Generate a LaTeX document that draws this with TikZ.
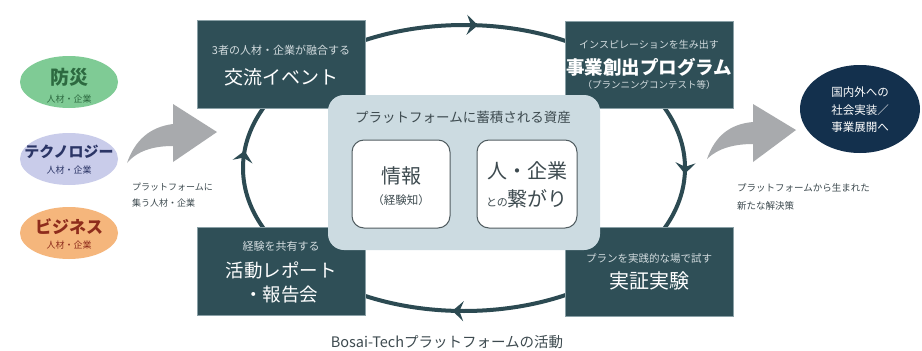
\documentclass[tikz,border=0pt]{standalone}
\usepackage{fontspec}
\setmainfont{Noto Sans CJK JP}
\usetikzlibrary{arrows.meta,decorations.markings,shapes.geometric}
\definecolor{boxc}{HTML}{2F4F57}
\definecolor{boxrim}{HTML}{8AA0A6}
\definecolor{cyc}{HTML}{2C4A52}
\definecolor{plat}{HTML}{CCDBE1}
\definecolor{innerdraw}{HTML}{505C60}
\definecolor{txtgray}{HTML}{3D4A4F}
\definecolor{subw}{HTML}{D3DCDF}
\definecolor{egreen}{HTML}{7FCB95}
\definecolor{tgreen}{HTML}{2D6A40}
\definecolor{elav}{HTML}{C9CCEA}
\definecolor{tlav}{HTML}{2B3566}
\definecolor{eorange}{HTML}{F5B67C}
\definecolor{torange}{HTML}{8E2C1C}
\definecolor{navy}{HTML}{13304D}
\definecolor{garrow}{HTML}{A8AAAD}
\newcommand\fs[1]{\fontsize{#1}{#1}\selectfont}
\tikzset{
  darkbox/.style={rectangle, fill=boxc, draw=boxrim, line width=1pt, inner sep=0pt},
  innerbox/.style={rectangle, rounded corners=12pt, fill=white, draw=innerdraw, line width=1pt, inner sep=0pt, minimum width=98pt, minimum height=88pt},
  subtxt/.style={text=subw, inner sep=0pt},
  bigtxt/.style={text=white, inner sep=0pt},
  grtxt/.style={text=txtgray, inner sep=0pt},
  blob/.style={ellipse, inner sep=0pt, minimum width=98pt, minimum height=52pt},
  cyclepath/.style={draw=cyc, line width=4pt,
    decoration={markings,
      mark=at position 0.012 with {\arrow{Stealth[length=11pt,width=20pt,inset=4pt]}},
      mark=at position 0.255 with {\arrow{Stealth[length=11pt,width=20pt,inset=4pt]}},
      mark=at position 0.51 with {\arrow{Stealth[length=11pt,width=20pt,inset=4pt]}},
      mark=at position 0.765 with {\arrow{Stealth[length=11pt,width=20pt,inset=4pt]}}},
    postaction={decorate}},
}
\begin{document}
\begin{tikzpicture}[x=1pt,y=-1pt]
\useasboundingbox (0,0) rectangle (922,351);
\fill[white] (0,0) rectangle (922,351);

% cycle
\draw[cyclepath] (464,25) arc[start angle=90, end angle=-270, x radius=221pt, y radius=143pt];

% left ellipses
\node[blob, fill=egreen] (e1) at (69,82) {};
\node[inner sep=0pt, text=tgreen, font=\fs{19}\bfseries] (e1a) at (69,77) {防災};
\node[inner sep=0pt, text=tgreen, font=\fs{9}] (e1b) at (69,99) {人材・企業};
\node[blob, fill=elav] (e2) at (69,159) {};
\node[inner sep=0pt, text=tlav, font=\fs{15}\bfseries] (e2a) at (69,152) {テクノロジー};
\node[inner sep=0pt, text=tlav, font=\fs{9}] (e2b) at (69,170) {人材・企業};
\node[blob, fill=eorange] (e3) at (69,233) {};
\node[inner sep=0pt, text=torange, font=\fs{17}\bfseries] (e3a) at (69,227) {ビジネス};
\node[inner sep=0pt, text=torange, font=\fs{9}] (e3b) at (69,245) {人材・企業};

% gray arrows
\fill[garrow] (127,163) .. controls (135,140) and (150,127) .. (173,124) -- (173,104) -- (217,132) -- (173,162) -- (173,146) .. controls (155,146) and (138,150) .. (127,163) -- cycle;
\fill[garrow] (707,159) .. controls (715,136) and (730,124) .. (753,122) -- (753,104) -- (796,130) -- (753,162) -- (753,144) .. controls (735,144) and (718,148) .. (707,159) -- cycle;

\node[grtxt, anchor=west, font=\fs{9}] (lt1) at (132,187) {プラットフォームに};
\node[grtxt, anchor=west, font=\fs{9}] (lt2) at (132,203) {集う人材・企業};
\node[grtxt, anchor=west, font=\fs{9.5}] (rt1) at (737,188) {プラットフォームから生まれた};
\node[grtxt, anchor=west, font=\fs{9.5}] (rt2) at (737,206) {新たな解決策};

% right ellipse
\node[ellipse, fill=navy, inner sep=0pt, minimum width=120pt, minimum height=88pt] (goal) at (860,109) {};
\node[bigtxt, font=\fs{11.5}] (g1) at (860,92) {国内外への};
\node[bigtxt, font=\fs{11.5}] (g2) at (860,110) {社会実装／};
\node[bigtxt, font=\fs{11.5}] (g3) at (860,127) {事業展開へ};

% dark boxes
\node[darkbox, minimum width=168pt, minimum height=88pt] (b1) at (281,64) {};
\node[subtxt, font=\fs{11}] (b1a) at (281,50) {3者の人材・企業が融合する};
\node[bigtxt, font=\fs{19}] (b1b) at (281,77) {交流イベント};

\node[darkbox, minimum width=168pt, minimum height=87pt] (b2) at (649,64.5) {};
\node[subtxt, font=\fs{10}] (b2a) at (649,45) {インスピレーションを生み出す};
\node[bigtxt, font=\fs{18.5}\bfseries] (b2b) at (649,67) {事業創出プログラム};
\node[subtxt, font=\fs{9.5}] (b2c) at (649,85) {（プランニングコンテスト等）};

\node[darkbox, minimum width=168pt, minimum height=88pt] (b3) at (281,271) {};
\node[subtxt, font=\fs{11}] (b3a) at (281,246) {経験を共有する};
\node[bigtxt, font=\fs{18.5}] (b3b) at (281,270) {活動レポート};
\node[bigtxt, font=\fs{18.5}] (b3c) at (281,295) {・報告会};

\node[darkbox, minimum width=168pt, minimum height=89pt] (b4) at (649,271.5) {};
\node[subtxt, font=\fs{10.5}] (b4a) at (649,259) {プランを実践的な場で試す};
\node[bigtxt, font=\fs{20}] (b4b) at (649,281) {実証実験};

% platform
\node[rectangle, rounded corners=16pt, fill=plat, inner sep=0pt, minimum width=272pt, minimum height=155pt] (plat) at (464,172.5) {};
\node[grtxt, font=\fs{13.5}] (pt) at (463,117) {プラットフォームに蓄積される資産};
\node[innerbox] (info) at (401,184) {};
\node[grtxt, font=\fs{20}] (info1) at (401,176) {情報};
\node[grtxt, font=\fs{11.5}] (info2) at (401,200) {（経験知）};
\node[innerbox, minimum width=100pt] (conn) at (527,184) {};
\node[grtxt, font=\fs{20}] (conn1) at (527,171) {人・企業};
\node[grtxt] (conn2) at (527,199) {{\fs{11}との}{\fs{20}繋がり}};

% bottom label
\node[grtxt, font=\fs{14.5}] (label) at (447,342) {Bosai-Techプラットフォームの活動};
\end{tikzpicture}
\end{document}
